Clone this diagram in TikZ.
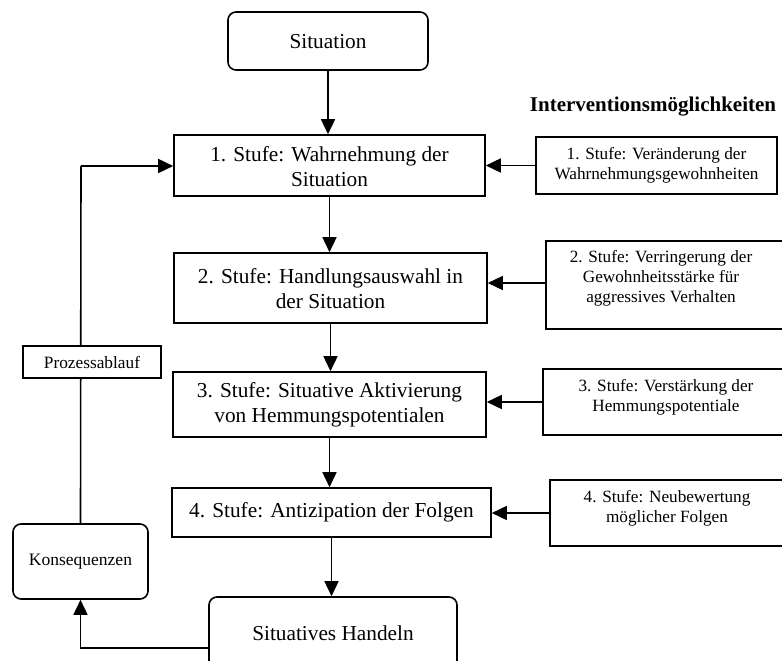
\documentclass[tikz,border=0pt]{standalone}
\usepackage{fontspec}
\setmainfont{Liberation Serif}
\usetikzlibrary{arrows.meta}
\begin{document}
\begin{tikzpicture}[x=1pt,y=-1pt,
  box/.style={draw,line width=1.6pt,rectangle,inner sep=0pt,fill=white},
  rbox/.style={box,rounded corners=8pt},
  lbl/.style={align=center,inner sep=0pt},
  big/.style={lbl,font=\fontsize{21.3}{25}\selectfont},
  small/.style={lbl,font=\fontsize{17.2}{20}\selectfont},
  arr/.style={line width=1.6pt,-{Triangle[length=15pt,width=14pt]}},
  ln/.style={line width=1.6pt}]
\useasboundingbox (0,0) rectangle (782,661);
\clip (0,0) rectangle (782,661);

% process stages
\node[rbox,minimum width=200pt,minimum height=58pt] (sit) at (328,41) {};
\node[big] (sitT) at (328,42) {Situation};
\node[box,minimum width=311pt,minimum height=61pt] (s1) at (329.5,165.5) {};
\node[big] (s1T) at (329.5,167) {1. Stufe: Wahrnehmung der\\Situation};
\node[box,minimum width=313pt,minimum height=70pt] (s2) at (330.5,288) {};
\node[big] (s2T) at (330.5,289) {2. Stufe: Handlungsauswahl in\\der Situation};
\node[box,minimum width=313pt,minimum height=65pt] (s3) at (329.5,404.5) {};
\node[big] (s3T) at (329.5,405) {3. Stufe: Situative Aktivierung\\von Hemmungspotentialen};
\node[box,minimum width=319pt,minimum height=49pt] (s4) at (331.5,512.5) {};
\node[big] (s4T) at (331.5,512.5) {4. Stufe: Antizipation der Folgen};
\node[rbox,minimum width=248pt,minimum height=86pt] (sh) at (333,640) {};
\node[big] (shT) at (333,633) {Situatives Handeln};

% interventions
\node[font=\bfseries\fontsize{21}{25}\selectfont,inner sep=0pt] (head) at (653,107) {Interventionsmöglichkeiten};
\node[box,minimum width=241pt,minimum height=57pt] (i1) at (656.5,165.5) {};
\node[small] (i1T) at (656.5,165.5) {1. Stufe: Veränderung der\\Wahrnehmungsgewohnheiten};
\node[box,minimum width=250pt,minimum height=88pt] (i2) at (671,285) {};
\node[small] (i2T) at (661,278) {2. Stufe: Verringerung der\\Gewohnheitsstärke für\\aggressives Verhalten};
\node[box,minimum width=250pt,minimum height=66pt] (i3) at (668,402) {};
\node[small] (i3T) at (666,397) {3. Stufe: Verstärkung der\\Hemmungspotentiale};
\node[box,minimum width=245pt,minimum height=66pt] (i4) at (672.5,513) {};
\node[small] (i4T) at (667,508.5) {4. Stufe: Neubewertung\\möglicher Folgen};

% feedback loop
\node[rbox,minimum width=135pt,minimum height=75pt] (kons) at (80.5,561.5) {};
\node[lbl,font=\fontsize{17.5}{20}\selectfont] (konsT) at (80.5,561.5) {Konsequenzen};
\coordinate (loopTop) at (81,166);

% connectors
\draw[arr] (sit.south) -- (sit.south |- s1.north);
\draw[arr] (s1.south) -- (s1.south |- s2.north);
\draw[arr] (s2.south) -- (s2.south |- s3.north);
\draw[arr] (s3.south) -- (s3.south |- s4.north);
\draw[arr] (s4.south) -- (s4.south |- sh.north);
\draw[arr] (i1.west) -- (i1.west -| s1.east);
\draw[arr] ([yshift=2pt]i2.west) -- ([yshift=2pt]i2.west -| s2.east);
\draw[arr] (i3.west) -- (i3.west -| s3.east);
\draw[arr] (i4.west) -- (i4.west -| s4.east);
\draw[arr] ([yshift=-8pt]sh.west) -| (kons.south);
\draw[ln] (kons.north) -- (loopTop);
\draw[arr] (loopTop) -- (loopTop -| s1.west);

\node[box,minimum width=138pt,minimum height=32pt] (proz) at (92,362) {};
\node[lbl,font=\fontsize{17.3}{20}\selectfont] (prozT) at (92,362) {Prozessablauf};
\end{tikzpicture}
\end{document}
